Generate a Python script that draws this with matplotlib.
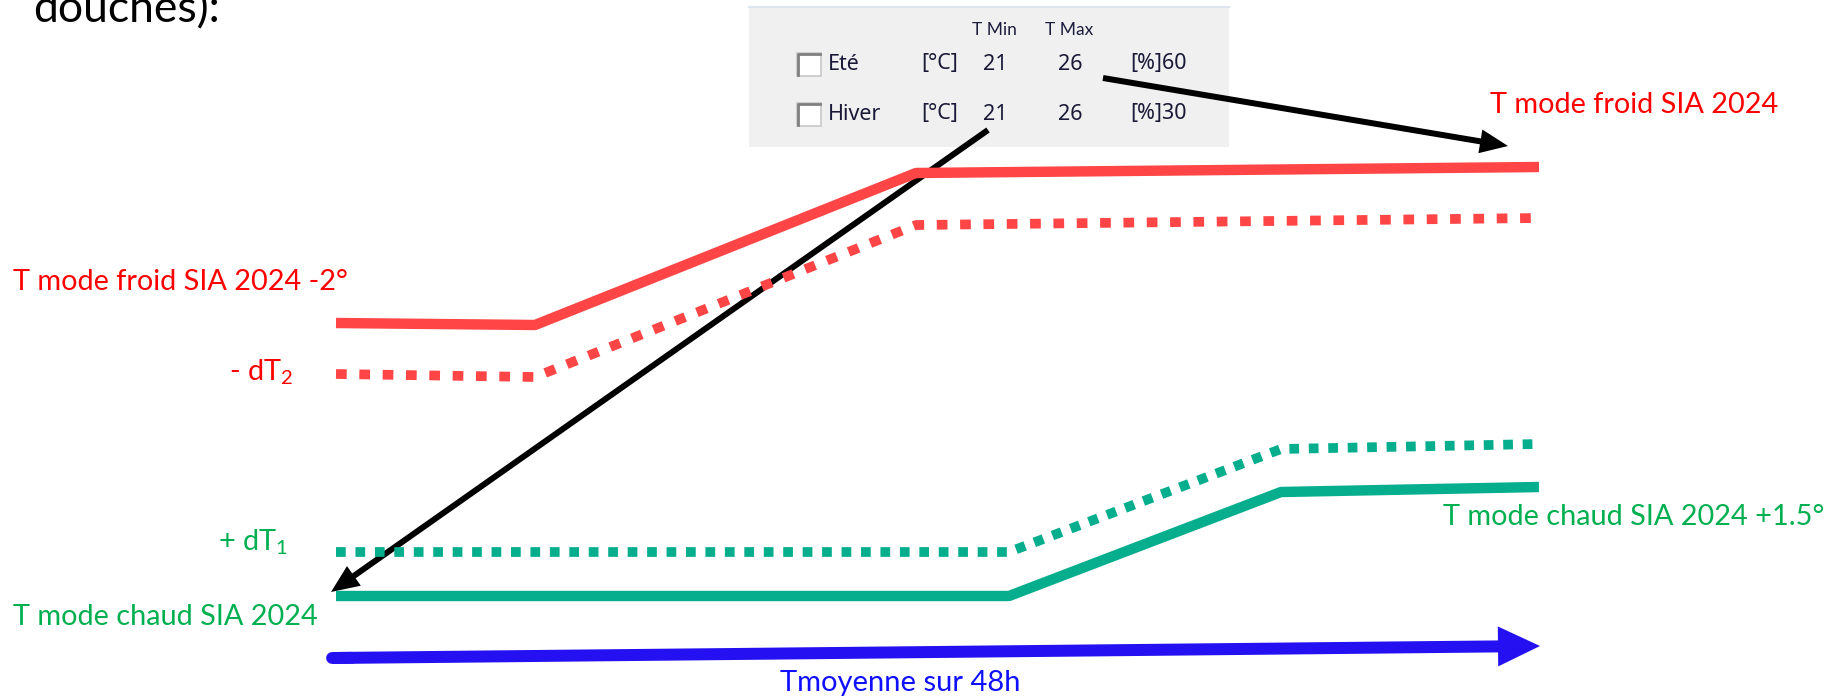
import matplotlib.pyplot as plt
from matplotlib.patches import Rectangle

plt.rcParams['font.family'] = ['Lato', 'DejaVu Sans']
plt.rcParams['mathtext.fontset'] = 'custom'
plt.rcParams['mathtext.rm'] = 'Lato'

# consignes (coordonnées du schéma, y vers le bas)
x_froid = [336, 535, 916, 1539]
y_froid = [323, 325, 173, 167]          # T mode froid SIA 2024
y_froid_dt = [374, 377, 225, 218]       # - dT2
x_chaud = [336, 1009, 1281, 1539]
y_chaud = [596, 596, 492, 487]          # T mode chaud SIA 2024
y_chaud_dt = [552, 552, 449, 444]       # + dT1

# axe Tmoyenne sur 48h
axe_x = [332, 1540]
axe_y = [658, 646]

# tableau des consignes
saisons = ["Eté", "Hiver"]
t_min = [21, 21]
t_max = [26, 26]
humid = [60, 30]

rouge_l = "#ff4545"
vert_l = "#06ae8d"
rouge_t = "#ff0000"
vert_t = "#00b050"
bleu = "#2410f0"

fig = plt.figure(figsize=(18.35, 6.98), dpi=100)
ax = fig.add_axes([0, 0, 1, 1])
ax.set_xlim(0, 1835)
ax.set_ylim(698, 0)
ax.axis("off")

# courbes
ax.plot(x_froid, y_froid, color=rouge_l, lw=7.5, solid_capstyle="butt")
ax.plot(x_froid, y_froid_dt, color=rouge_l, lw=7, dash_capstyle="butt",
        linestyle=(0, (1.1, 1.3)))
ax.plot(x_chaud, y_chaud, color=vert_l, lw=7.5, solid_capstyle="butt")
ax.plot(x_chaud, y_chaud_dt, color=vert_l, lw=7, dash_capstyle="butt",
        linestyle=(0, (1.0, 1.0)))

# fleche bleue
ax.plot(axe_x[:1] + [axe_x[0] + 20], [axe_y[0], axe_y[0] - 0.2], color=bleu,
        lw=8.5, solid_capstyle="round")
ax.arrow(axe_x[0], axe_y[0], axe_x[1] - axe_x[0], axe_y[1] - axe_y[0],
         width=12, head_width=40, head_length=42, length_includes_head=True,
         color=bleu, lw=0)
ax.text(900, 683, "Tmoyenne sur 48h", color="#1010ff", fontsize=21,
        ha="center", va="center")

# encadré des consignes
ax.add_patch(Rectangle((749, 8), 480, 139, facecolor="#f0f0f0", edgecolor="none"))
ax.plot([749, 1229], [7, 7], color="#dde6ef", lw=1.5)
txt = dict(color="#1a1a38", fontsize=15.5, va="center", weight="medium",
           family=["Noto Sans", "DejaVu Sans"])
entete = dict(fontsize=12.5, color="#1c1c3c", va="center", family=["Lato", "DejaVu Sans"])
ax.text(972, 30, "T Min", **entete)
ax.text(1045, 30, "T Max", **entete)
for i, s in enumerate(saisons):
    yr = 64 + 50 * i
    ax.add_patch(Rectangle((797, yr - 11), 24, 23, facecolor="white",
                           edgecolor="#c8c8c8", lw=1.2))
    ax.plot([798, 798, 820], [yr + 11, yr - 10, yr - 10], color="#808080", lw=2)
    ax.text(828, yr, s, **txt)
    ax.text(921, yr, "[°C]", **txt)
    ax.text(983, yr, str(t_min[i]), **txt)
    ax.text(1058, yr, str(t_max[i]), **txt)
    ax.text(1130, yr, "[%]" + str(humid[i]), **txt)

# fleches noires
ax.arrow(1103, 78, 1508 - 1103, 146 - 78, width=6, head_width=24,
         head_length=28, length_includes_head=True, color="black", lw=0)
ax.arrow(988, 130, 331 - 988, 592 - 130, width=6, head_width=24,
         head_length=28, length_includes_head=True, color="black", lw=0)

# étiquettes
lab = dict(fontsize=20.8, va="center")
ax.text(13, 282, "T mode froid SIA 2024 -2°", color=rouge_t, ha="left", **lab)
ax.text(293, 372, r"- dT$_{2}$", color=rouge_t, ha="right", **lab)
ax.text(288, 542, r"+ dT$_{1}$", color=vert_t, ha="right", **lab)
ax.text(13, 617, "T mode chaud SIA 2024", color=vert_t, ha="left", **lab)
ax.text(1490, 105, "T mode froid SIA 2024", color=rouge_t, ha="left", **lab)
ax.text(1443, 517, "T mode chaud SIA 2024 +1.5°", color=vert_t, ha="left", **lab)
ax.text(33, 22, "douches):", color="black", fontsize=32, ha="left", va="baseline")

fig.savefig("out.png", dpi=100)
